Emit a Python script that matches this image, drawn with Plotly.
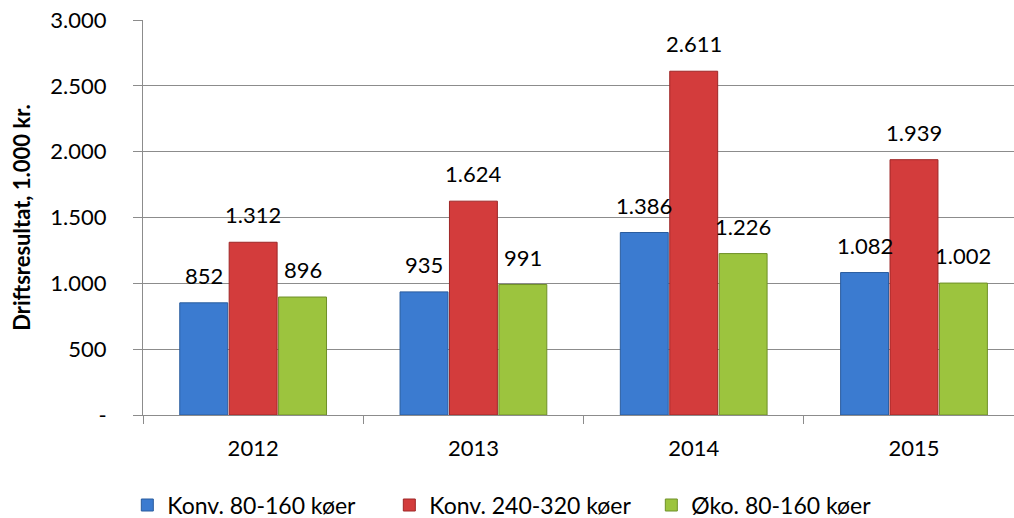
import plotly.graph_objects as go

years = ["2012", "2013", "2014", "2015"]
konv_80_160 = [852, 935, 1386, 1082]
konv_240_320 = [1312, 1624, 2611, 1939]
oko_80_160 = [896, 991, 1226, 1002]
series_names = ["Konv. 80-160 køer", "Konv. 240-320 køer", "Øko. 80-160 køer"]
y_tickvals = [0, 500, 1000, 1500, 2000, 2500, 3000]
y_ticktext = ["-", "500", "1.000", "1.500", "2.000", "2.500", "3.000"]

FONT = "Lato"
fills = ["#3b7bd0", "#d33c3c", "#9cc43e"]
edges = ["#2a5c9e", "#9e2626", "#6f9028"]

W, H = 1014, 518
ML, MR, MT, MB = 143, 0, 20, 103
XR = [-0.5, 3.454]
BARGAP = 0.327
cat_px = (W - ML - MR) / (XR[1] - XR[0])
slot_px = cat_px * (1 - BARGAP) / 3

def fmt(v):
    return f"{v:,}".replace(",", ".")

fig = go.Figure()
series = [konv_80_160, konv_240_320, oko_80_160]
for name, vals, fc, ec in zip(series_names, series, fills, edges):
    fig.add_trace(go.Bar(
        x=years, y=vals, name=name,
        marker=dict(color=fc, line=dict(color=ec, width=1)),
    ))

annotations = []
for i, vals in enumerate(series):
    for j, v in enumerate(vals):
        annotations.append(dict(
            x=j, y=v, xref="x", yref="y", text=fmt(v), showarrow=False,
            xanchor="center", yanchor="bottom", xshift=(i - 1) * slot_px, yshift=12,
            font=dict(family=FONT, size=22, color="#000000"),
        ))

fig.update_layout(
    width=W, height=H,
    margin=dict(l=ML, r=MR, t=MT, b=MB, autoexpand=False),
    paper_bgcolor="white", plot_bgcolor="white",
    barmode="group", bargap=BARGAP, bargroupgap=0.03,
    font=dict(family=FONT, size=22, color="#000000"),
    showlegend=True,
    legend=dict(orientation="h", x=-0.018, xanchor="left", y=-0.228, yanchor="middle",
                font=dict(family=FONT, size=23, color="#000000"),
                entrywidth=217, entrywidthmode="pixels",
                itemwidth=30, tracegroupgap=0, traceorder="normal"),
    annotations=annotations,
)
fig.update_xaxes(
    type="category", range=XR,
    showline=True, linecolor="#8c8c8c", linewidth=1,
    ticks="outside", tickson="boundaries", ticklen=8, tickcolor="#8c8c8c",
    ticklabelstandoff=14,
    tickfont=dict(family=FONT, size=22, color="#000000"),
    showgrid=False, zeroline=False,
)
fig.update_yaxes(
    range=[0, 3000], tickvals=y_tickvals, ticktext=y_ticktext,
    showline=True, linecolor="#8c8c8c", linewidth=1,
    ticks="outside", ticklen=9, tickcolor="#8c8c8c",
    ticklabelstandoff=22,
    tickfont=dict(family=FONT, size=22, color="#000000"),
    showgrid=True, gridcolor="#8c8c8c", gridwidth=1, zeroline=False,
    title=dict(text="<b>Driftsresultat, 1.000 kr.</b>", font=dict(family=FONT, size=22, color="#000000"), standoff=13),
)

fig.write_html("out.html")
